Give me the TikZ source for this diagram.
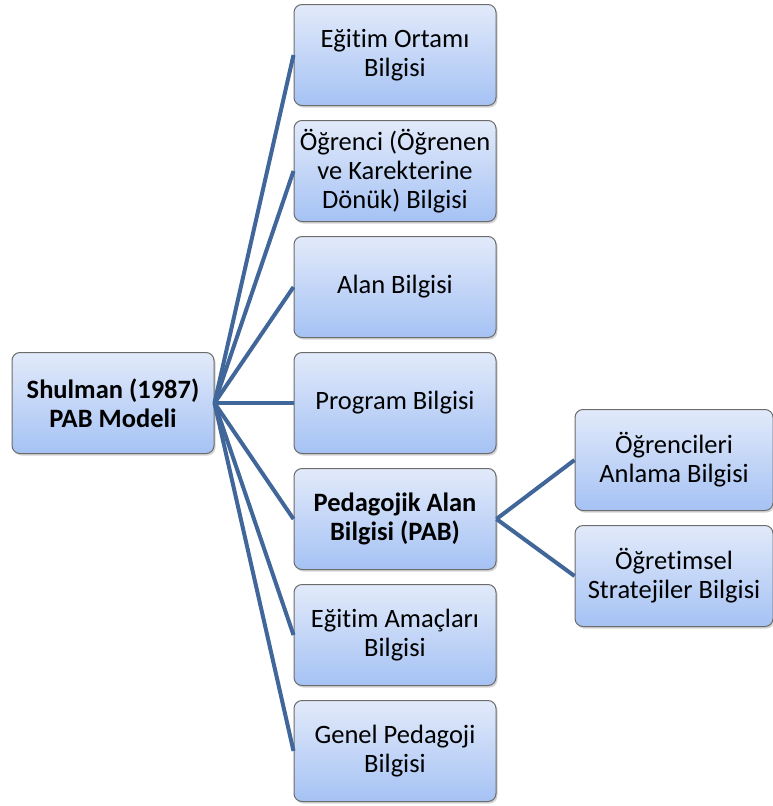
\documentclass[tikz,border=0pt]{standalone}
\usepackage{fontspec}
\setmainfont{Carlito}[Ligatures=NoCommon]
\usetikzlibrary{shadows}
\definecolor{ustmavi}{HTML}{E2EAFA}
\definecolor{altmavi}{HTML}{A5C2F4}
\definecolor{cizgi}{HTML}{41679A}

\tikzset{
  kutu/.style={rectangle, rounded corners=8pt, draw=gray!85!black, line width=1pt,
    top color=ustmavi, bottom color=altmavi,
    minimum width=202pt, minimum height=101pt, align=center, inner sep=2pt,
    font=\fontsize{26.5}{29}\selectfont,
    drop shadow={shadow xshift=1.5pt, shadow yshift=-2pt, opacity=0.35}},
  bag/.style={draw=cizgi, line width=4pt}
}

\begin{document}
\begin{tikzpicture}[x=1pt, y=-1pt]
  \useasboundingbox (0,0) rectangle (773,806);
  \node [kutu] (kok) at (113,403) {\textbf{Shulman (1987)}\\\textbf{PAB Modeli}};
  \node [kutu] (b1) at (395,55) {Eğitim Ortamı\\Bilgisi};
  \node [kutu] (b2) at (395,171) {Öğrenci (Öğrenen\\ve Karekterine\\Dönük) Bilgisi};
  \node [kutu] (b3) at (395,287) {Alan Bilgisi};
  \node [kutu] (b4) at (395,403) {Program Bilgisi};
  \node [kutu] (b5) at (395,519) {\textbf{Pedagojik Alan}\\\textbf{Bilgisi (PAB)}};
  \node [kutu] (b6) at (395,635) {Eğitim Amaçları\\Bilgisi};
  \node [kutu] (b7) at (395,751) {Genel Pedagoji\\Bilgisi};
  \node [kutu, minimum width=198pt] (c1) at (674,460) {Öğrencileri\\Anlama Bilgisi};
  \node [kutu, minimum width=198pt] (c2) at (674,576) {Öğretimsel\\Stratejiler Bilgisi};
  \foreach \i in {1,...,7}
    \draw [bag] (kok.east) -- (b\i.west);
  \draw [bag] (b5.east) -- (c1.west) (b5.east) -- (c2.west);
\end{tikzpicture}
\end{document}
